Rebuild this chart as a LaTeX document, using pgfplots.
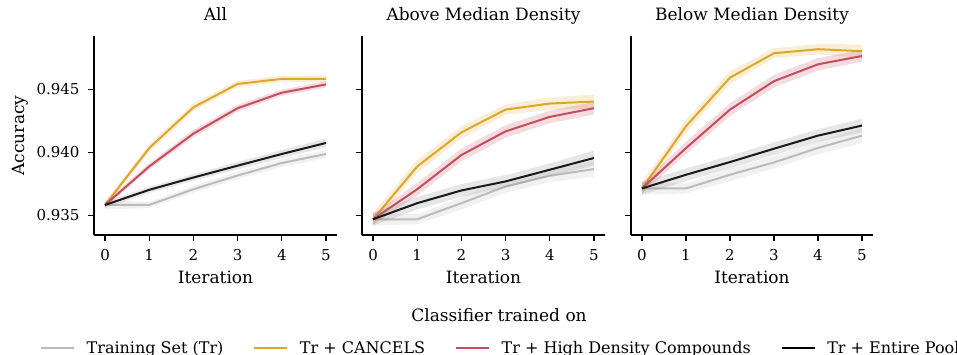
\documentclass[border=0pt]{standalone}
\usepackage{fontspec}
\setmainfont{DejaVu Serif}
\usepackage{pgfplots}
\pgfplotsset{compat=1.18}
\usepackage{pgfplotstable}
\definecolor{cgray}{RGB}{187,187,187}
\definecolor{corange}{RGB}{222,166,43}
\definecolor{cred}{RGB}{196,78,96}
\definecolor{cblack}{RGB}{0,0,0}

% mean lines
\pgfplotstableread{
x g o r k
0 0.93582 0.93582 0.93582 0.93582
1 0.93582 0.94034 0.93888 0.93702
2 0.93707 0.94358 0.94149 0.93800
3 0.93816 0.94544 0.94351 0.93894
4 0.93915 0.94584 0.94474 0.93987
5 0.93987 0.94584 0.94540 0.94075
}\tAll
\pgfplotstableread{
x g o r k
0 0.93468 0.93468 0.93468 0.93468
1 0.93468 0.93888 0.93707 0.93596
2 0.93596 0.94159 0.93979 0.93697
3 0.93729 0.94340 0.94167 0.93769
4 0.93814 0.94388 0.94282 0.93862
5 0.93867 0.94404 0.94351 0.93955
}\tAbove
\pgfplotstableread{
x g o r k
0 0.93713 0.93713 0.93713 0.93713
1 0.93713 0.94208 0.94034 0.93822
2 0.93822 0.94594 0.94340 0.93923
3 0.93920 0.94788 0.94566 0.94029
4 0.94035 0.94820 0.94700 0.94133
5 0.94133 0.94804 0.94766 0.94213
}\tBelow
% confidence bands: upper edge from x=0 to 5, then lower edge from x=5 back to 0
\pgfplotstableread{
x g o r k
0 0.93617 0.93607 0.93602 0.93607
1 0.93607 0.94064 0.93913 0.93727
2 0.93732 0.94388 0.94179 0.93825
3 0.93846 0.94569 0.94379 0.93924
4 0.93945 0.94609 0.94499 0.94019
5 0.94019 0.94612 0.94565 0.94110
5 0.93955 0.94556 0.94515 0.94040
4 0.93885 0.94559 0.94449 0.93955
3 0.93786 0.94519 0.94323 0.93864
2 0.93682 0.94328 0.94119 0.93775
1 0.93557 0.94004 0.93863 0.93677
0 0.93547 0.93557 0.93562 0.93557
}\bAll
\pgfplotstableread{
x g o r k
0 0.93518 0.93518 0.93508 0.93518
1 0.93508 0.93938 0.93757 0.93646
2 0.93646 0.94209 0.94029 0.93747
3 0.93779 0.94380 0.94217 0.93819
4 0.93864 0.94438 0.94332 0.93912
5 0.93927 0.94459 0.94401 0.94015
5 0.93807 0.94349 0.94301 0.93895
4 0.93764 0.94338 0.94232 0.93812
3 0.93679 0.94300 0.94117 0.93719
2 0.93546 0.94109 0.93929 0.93647
1 0.93428 0.93838 0.93657 0.93546
0 0.93418 0.93418 0.93428 0.93418
}\bAbove
\pgfplotstableread{
x g o r k
0 0.93763 0.93763 0.93753 0.93763
1 0.93753 0.94258 0.94084 0.93872
2 0.93872 0.94644 0.94390 0.93973
3 0.93970 0.94828 0.94616 0.94079
4 0.94085 0.94860 0.94750 0.94183
5 0.94193 0.94859 0.94811 0.94268
5 0.94073 0.94749 0.94721 0.94158
4 0.93985 0.94780 0.94650 0.94083
3 0.93870 0.94748 0.94516 0.93979
2 0.93772 0.94544 0.94290 0.93873
1 0.93673 0.94158 0.93984 0.93772
0 0.93663 0.93663 0.93673 0.93663
}\bBelow

\newcommand{\panel}[2]{%
  \addplot[cgray, line width=2pt] table[x=x, y=g] {#1};
  \addplot[fill=cgray, fill opacity=0.2, draw=none, forget plot] table[x=x, y=g] {#2};
  \addplot[corange, line width=2pt] table[x=x, y=o] {#1};
  \addplot[fill=corange, fill opacity=0.2, draw=none, forget plot] table[x=x, y=o] {#2};
  \addplot[cred, line width=2pt] table[x=x, y=r] {#1};
  \addplot[fill=cred, fill opacity=0.2, draw=none, forget plot] table[x=x, y=r] {#2};
  \addplot[cblack, line width=2pt] table[x=x, y=k] {#1};
  \addplot[fill=gray, fill opacity=0.2, draw=none, forget plot] table[x=x, y=k] {#2};
}

\pgfplotsset{
  panel/.style={
    scale only axis, height=199pt, anchor=south west,
    xmin=-0.25, xmax=5.25, ymin=0.93343, ymax=0.94925,
    axis x line*=bottom, axis y line*=left,
    axis line style={line width=1.25pt, black},
    xtick={0,1,2,3,4,5}, ytick={0.935,0.940,0.945},
    scaled y ticks=false,
    tick align=outside, major tick length=6pt,
    tick style={line width=1.25pt, black},
    /pgf/number format/assume math mode=true,
    y tick label style={/pgf/number format/.cd, fixed, fixed zerofill, precision=3, /tikz/.cd, xshift=-5pt},
    x tick label style={yshift=-5pt},
    ticklabel style={font=\fontsize{15}{18}\selectfont},
    title style={font=\fontsize{17}{20}\selectfont, at={(axis description cs:0.5,1)}, anchor=base, yshift=9pt},
    xlabel={Iteration},
    xlabel style={font=\fontsize{17}{20}\selectfont, at={(axis description cs:0.5,0)}, anchor=base, yshift=-49pt},
    ylabel style={font=\fontsize{17}{20}\selectfont},
  }
}

\begin{document}
\begin{tikzpicture}
\path[use as bounding box] (0pt,0pt) rectangle (957pt,355pt);
\begin{axis}[panel, width=243pt, at={(94pt,120pt)},
  title={All},
  ylabel={Accuracy},
  ylabel style={at={(axis description cs:-0.2852,0.5)}, anchor=base},
  legend columns=4,
  legend style={at={(axis description cs:-0.2222,-0.5678)}, anchor=west,
    draw=none, fill=none, inner sep=0pt,
    font=\fontsize{16}{18}\selectfont,
    nodes={inner sep=0pt},
    /tikz/every odd column/.style={column sep=11.5pt},
    /tikz/every even column/.style={column sep=30pt}},
  legend image code/.code={\draw[#1] (0pt,0pt) -- (33pt,0pt);},
]
\panel{\tAll}{\bAll}
\legend{Training Set (Tr), Tr + CANCELS, Tr + High Density Compounds, Tr + Entire Pool}
\end{axis}
\begin{axis}[panel, width=243pt, at={(362pt,120pt)},
  title={Above Median Density}, yticklabels={}]
\panel{\tAbove}{\bAbove}
\end{axis}
\begin{axis}[panel, width=242pt, at={(631pt,120pt)},
  title={Below Median Density}, yticklabels={}]
\panel{\tBelow}{\bBelow}
\end{axis}
\node[anchor=base, font=\fontsize{17}{20}\selectfont] at (499pt,33.3pt) {Classifier trained on};
\end{tikzpicture}
\end{document}
